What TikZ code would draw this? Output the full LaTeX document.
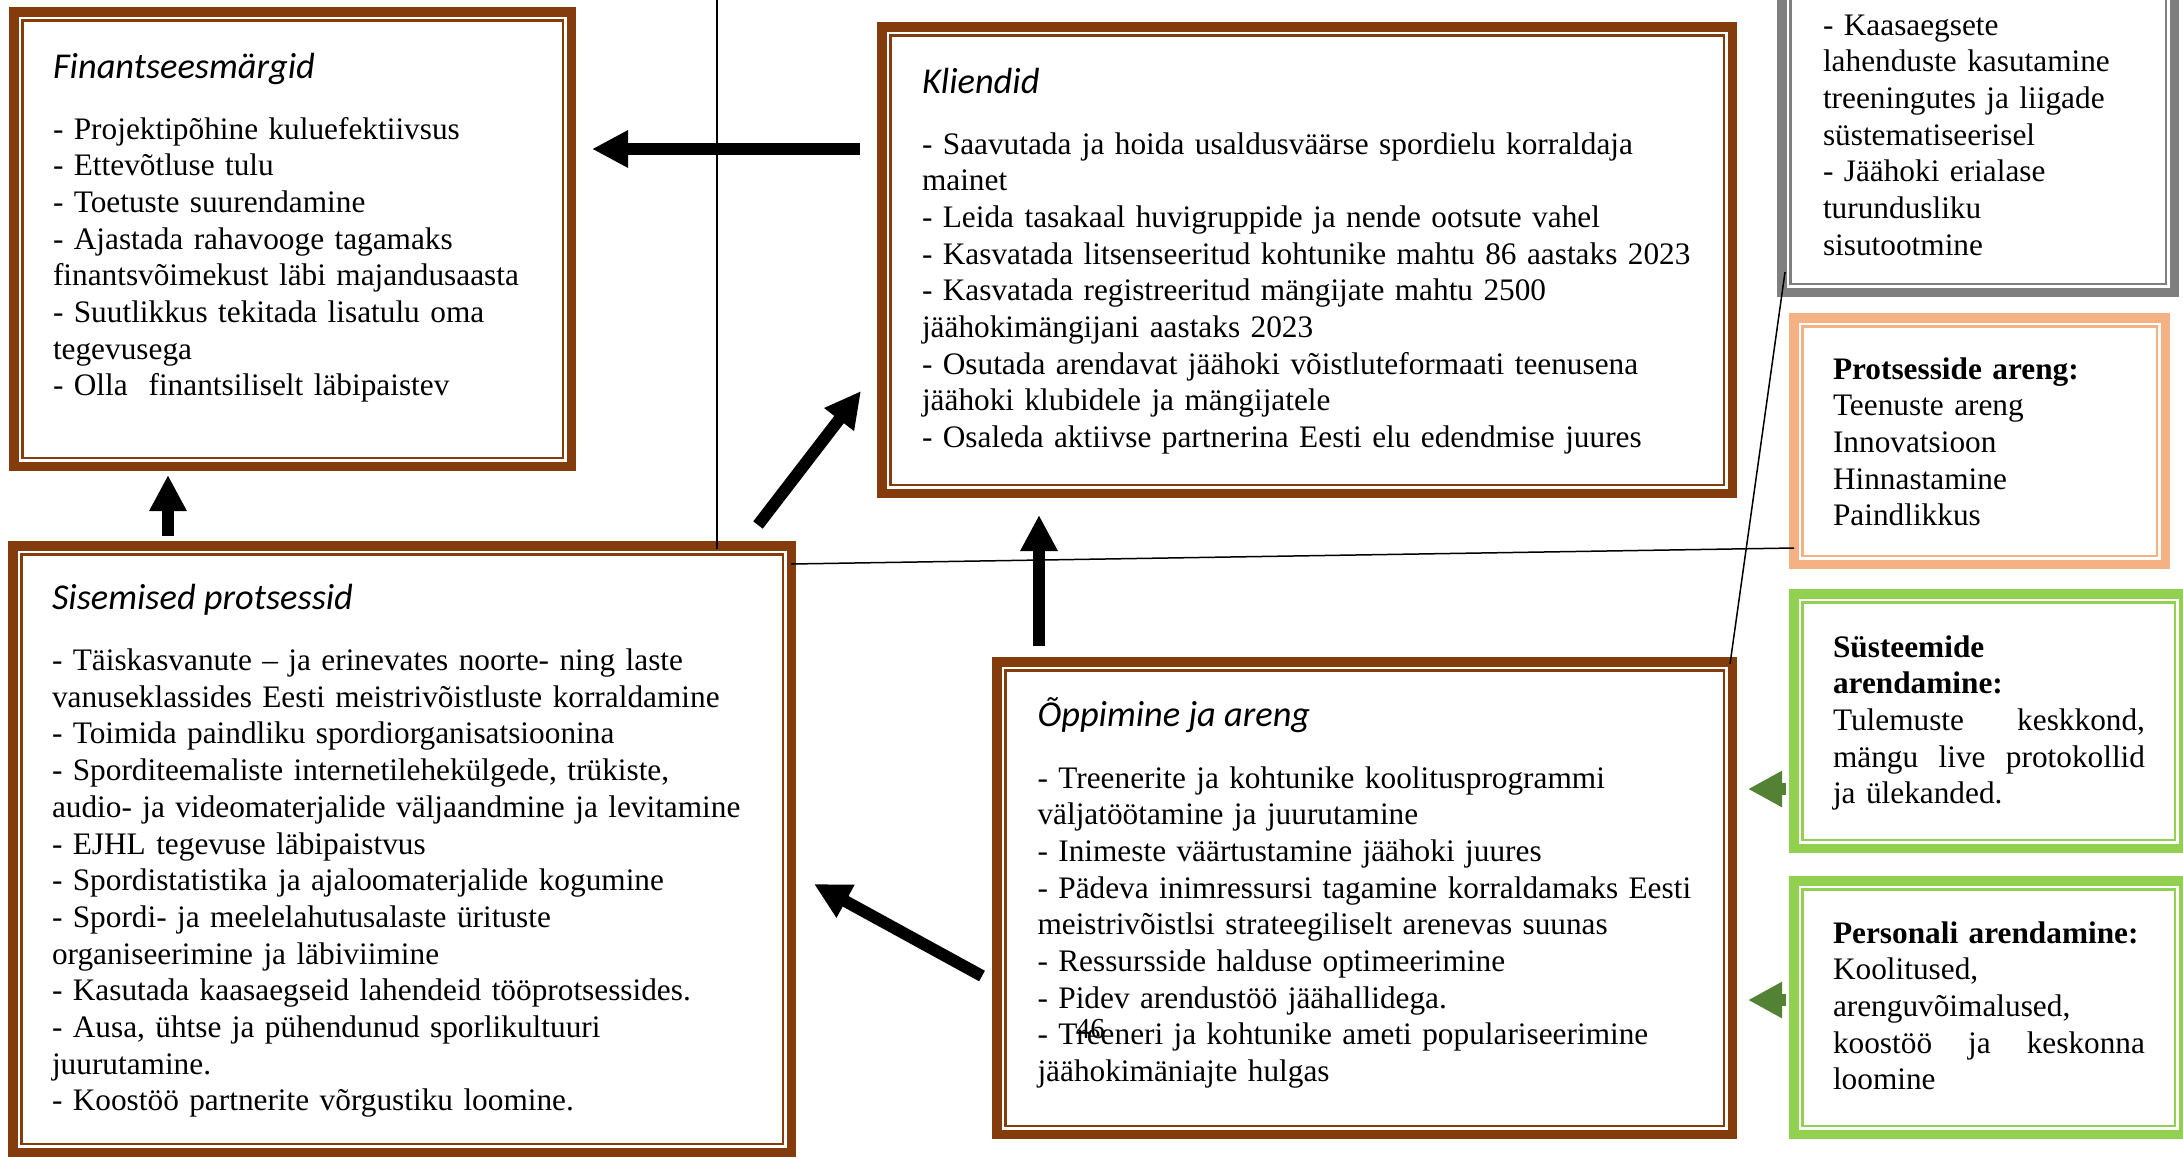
\documentclass[tikz,border=0pt]{standalone}
\usepackage{fontspec}
\setmainfont{Liberation Serif}
\newfontfamily\ttlfont{Carlito}
\usetikzlibrary{arrows.meta}
\definecolor{brownF}{HTML}{843C0C}
\definecolor{grayF}{HTML}{7F7F7F}
\definecolor{orangeF}{HTML}{F4B183}
\definecolor{greenF}{HTML}{92D050}
\definecolor{greenA}{HTML}{548235}
\newcommand\frm[6]{%
  \node[draw=#6, line width=4.75pt, inner sep=0pt, outer sep=0pt, anchor=north west,
        minimum width={(#4-#2-9.5)*0.5pt}, minimum height={(#5-#3-9.5)*0.5pt}] (#1) at (#2+4.75,#3+4.75) {};
  \draw[draw=#6, line width=1.25pt] ([shift={(8.5,8.5)}]#1.north west) rectangle ([shift={(-8.5,-8.5)}]#1.south east);
}
\newcommand\justline[1]{\makebox[156pt][l]{#1}}
\tikzset{
  body/.style={anchor=base west, inner sep=0pt, outer sep=0pt, align=left, text width=#1,
    font=\fontsize{15.65}{18.35}\selectfont},
  ttl/.style={anchor=base west, inner sep=0pt, outer sep=0pt, font=\ttlfont\itshape\fontsize{18.2}{22}\selectfont},
  bigarrow/.style={draw=black, line width=6pt, -{Triangle[length=18pt,width=17.5pt]}},
  garrow/.style={draw=greenA, line width=6pt, -{Triangle[length=17pt,width=17pt]}},
  thinline/.style={draw=black, line width=0.75pt},
}
\begin{document}
\begin{tikzpicture}[x=0.5pt, y=-0.5pt]
\useasboundingbox (0,0) rectangle (2183,1158);
\clip (0,0) rectangle (2183,1158);

% frames
\frm{F}{9}{7}{576}{471}{brownF}
\frm{K}{877}{22}{1737}{498}{brownF}
\frm{S}{8}{541}{796}{1157}{brownF}
\frm{O}{992}{657}{1737}{1139}{brownF}
\frm{G}{1777}{-200}{2179}{297}{grayF}
\frm{P}{1789}{313}{2170}{569}{orangeF}
\frm{SY}{1789}{589}{2188}{853}{greenF}
\frm{PE}{1789}{876}{2188}{1139}{greenF}

% thin lines
\coordinate (v0) at (717,0);
\coordinate (v1) at (717,549);
\draw[thinline] (v0) -- (v1);
\coordinate (l2a) at (791,564);
\coordinate (l2b) at (1794,548);
\draw[thinline] (l2a) -- (l2b);
\coordinate (l3a) at (1730,664);
\coordinate (l3b) at (1785,272);
\draw[thinline] (l3a) -- (l3b);

% titles
\node[ttl] (Ft) at (53,78) {Finantseesmärgid};
\node[ttl] (Kt) at (922,93) {Kliendid};
\node[ttl] (St) at (52,609.5) {Sisemised protsessid};
\node[ttl] (Ot) at (1037.5,726) {Õppimine ja areng};

% bodies
\node[body=250pt] (Fb) at (53,139) {- Projektipõhine kuluefektiivsus\\
- Ettevõtluse tulu\\
- Toetuste suurendamine\\
- Ajastada rahavooge tagamaks\\
finantsvõimekust läbi majandusaasta\\
- Suutlikkus tekitada lisatulu oma\\
tegevusega\\
- Olla\ \ finantsiliselt läbipaistev};

\node[body=405pt] (Kb) at (922,154) {- Saavutada ja hoida usaldusväärse spordielu korraldaja\\
mainet\\
- Leida tasakaal huvigruppide ja nende ootsute vahel\\
- Kasvatada litsenseeritud kohtunike mahtu 86 aastaks 2023\\
- Kasvatada registreeritud mängijate mahtu 2500\\
jäähokimängijani aastaks 2023\\
- Osutada arendavat jäähoki võistluteformaati teenusena\\
jäähoki klubidele ja mängijatele\\
- Osaleda aktiivse partnerina Eesti elu edendmise juures};

\node[body=362pt] (Sb) at (52,670.5) {- Täiskasvanute – ja erinevates noorte- ning laste\\
vanuseklassides Eesti meistrivõistluste korraldamine\\
- Toimida paindliku spordiorganisatsioonina\\
- Sporditeemaliste internetilehekülgede, trükiste,\\
audio- ja videomaterjalide väljaandmine ja levitamine\\
- EJHL tegevuse läbipaistvus\\
- Spordistatistika ja ajaloomaterjalide kogumine\\
- Spordi- ja meelelahutusalaste ürituste\\
organiseerimine ja läbiviimine\\
- Kasutada kaasaegseid lahendeid tööprotsessides.\\
- Ausa, ühtse ja pühendunud sporlikultuuri\\
juurutamine.\\
- Koostöö partnerite võrgustiku loomine.};

\node[body=340pt] (Ob) at (1037.5,788) {- Treenerite ja kohtunike koolitusprogrammi\\
väljatöötamine ja juurutamine\\
- Inimeste väärtustamine jäähoki juures\\
- Pädeva inimressursi tagamine korraldamaks Eesti\\
meistrivõistlsi strateegiliselt arenevas suunas\\
- Ressursside halduse optimeerimine\\
- Pidev arendustöö jäähallidega.\\
- Treeneri ja kohtunike ameti populariseerimine\\
jäähokimäniajte hulgas};

\node[anchor=base west, inner sep=0pt, font=\fontsize{14.5}{16}\selectfont] (pg) at (1075.5,1038) {46};

\node[body=165pt] (Gb) at (1823,35) {- Kaasaegsete\\
lahenduste kasutamine\\
treeningutes ja liigade\\
süstematiseerisel\\
- Jäähoki erialase\\
turundusliku\\
sisutootmine};

\node[body=160pt] (Pb) at (1833,379) {\textbf{Protsesside areng:}\\
Teenuste areng\\
Innovatsioon\\
Hinnastamine\\
Paindlikkus};

\node[body=160pt] (SYb) at (1833,657) {\textbf{Süsteemide}\\
\textbf{arendamine:}\\
\justline{Tulemuste\hfill keskkond,}\\
\justline{mängu\hfill live\hfill protokollid}\\
ja ülekanded.};

\node[body=160pt] (PEb) at (1833,943) {\textbf{Personali arendamine:}\\
Koolitused,\\
arenguvõimalused,\\
\justline{koostöö\hfill ja\hfill keskonna}\\
loomine};

% big arrows
\coordinate (a1s) at (860,149);
\coordinate (a1e) at (592,149);
\draw[bigarrow] (a1s) -- (a1e);
\coordinate (a2s) at (168,536);
\coordinate (a2e) at (168,475);
\draw[bigarrow] (a2s) -- (a2e);
\coordinate (a3s) at (758,525);
\coordinate (a3e) at (861,391);
\draw[bigarrow] (a3s) -- (a3e);
\coordinate (a4s) at (1039,646);
\coordinate (a4e) at (1039,515);
\draw[bigarrow] (a4s) -- (a4e);
\coordinate (a5s) at (982,976);
\coordinate (a5e) at (814,884);
\draw[bigarrow] (a5s) -- (a5e);

% green arrows
\coordinate (g1s) at (1786,789);
\coordinate (g1e) at (1748,789);
\draw[garrow] (g1s) -- (g1e);
\coordinate (g2s) at (1786,1000);
\coordinate (g2e) at (1748,1000);
\draw[garrow] (g2s) -- (g2e);
\end{tikzpicture}
\end{document}
